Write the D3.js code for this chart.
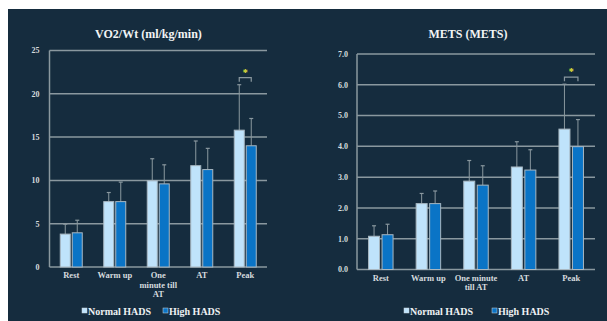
<!DOCTYPE html>
<html><head><meta charset="utf-8">
<script src="https://cdn.jsdelivr.net/npm/d3@7"></script>
<style>html,body{margin:0;padding:0;background:#fff;}svg{display:block;}</style>
</head><body>
<script>
const categories = ["Rest", "Warm up", "One minute till AT", "AT", "Peak"];
const seriesNames = ["Normal HADS", "High HADS"];
const leftLabelLines = [["Rest"], ["Warm up"], ["One", "minute till", "AT"], ["AT"], ["Peak"]];
const rightLabelLines = [["Rest"], ["Warm up"], ["One minute", "till AT"], ["AT"], ["Peak"]];

const vo2Normal = [3.8, 7.55, 9.95, 11.7, 15.8];
const vo2NormalErr = [4.95, 8.6, 12.5, 14.55, 21.05];
const vo2High = [3.95, 7.55, 9.6, 11.25, 14.0];
const vo2HighErr = [5.4, 9.8, 11.8, 13.7, 17.15];
const vo2Ticks = [0, 5, 10, 15, 20, 25];

const metsNormal = [1.08, 2.14, 2.87, 3.33, 4.56];
const metsNormalErr = [1.42, 2.47, 3.54, 4.15, 6.02];
const metsHigh = [1.13, 2.14, 2.74, 3.23, 3.99];
const metsHighErr = [1.47, 2.55, 3.37, 3.89, 4.87];
const metsTicks = [0, 1, 2, 3, 4, 5, 6, 7];

const W = 607, H = 321;
const bg = "#152c3e", grid = "#8a989f", lightC = "#bfe3fb", darkC = "#0a74c6";
const serif = "'Liberation Serif','Times New Roman',serif";

const svg = d3.select("body").append("svg").attr("width", W).attr("height", H);
svg.append("rect").attr("x", 0).attr("y", 0).attr("width", W).attr("height", H).attr("fill", "#fff");
svg.append("rect").attr("x", 8).attr("y", 9).attr("width", W - 8).attr("height", H - 9).attr("fill", bg);

function drawChart(cfg) {
  const g = svg.append("g");
  const x = d3.scaleBand().domain(categories).range([cfg.x0, cfg.x1]).paddingInner(0).paddingOuter(0);
  const y = d3.scaleLinear().domain([cfg.ticks[0], cfg.ticks[cfg.ticks.length - 1]]).range([cfg.yBottom, cfg.yTop]);
  const bw = x.bandwidth();
  const x1 = d3.scaleBand().domain(seriesNames)
    .range([bw / 2 - cfg.barW - cfg.gap / 2, bw / 2 + cfg.barW + cfg.gap / 2])
    .paddingInner(cfg.gap / (cfg.barW + cfg.gap));

  // gridlines
  g.append("g").selectAll("line").data(cfg.ticks).join("line")
    .attr("x1", cfg.x0).attr("x2", cfg.x1)
    .attr("y1", d => y(d)).attr("y2", d => y(d))
    .attr("stroke", grid).attr("stroke-width", 1.5);
  // y axis line
  g.append("line").attr("x1", cfg.x0).attr("x2", cfg.x0).attr("y1", y(cfg.ticks[0])).attr("y2", y(cfg.ticks[cfg.ticks.length - 1]))
    .attr("stroke", grid).attr("stroke-width", 1.5);
  // y labels
  g.append("g").selectAll("text").data(cfg.ticks).join("text")
    .attr("x", cfg.x0 - cfg.labelGap).attr("y", d => y(d)).attr("dy", "0.35em")
    .attr("text-anchor", "end").attr("fill", "#d5dbde")
    .attr("font-family", serif).attr("font-weight", "bold").attr("font-size", 8)
    .text(d => d3.format(cfg.fmt)(d));

  const sets = [
    { name: seriesNames[0], vals: cfg.normal, errs: cfg.normalErr, color: lightC },
    { name: seriesNames[1], vals: cfg.high, errs: cfg.highErr, color: darkC }
  ];
  sets.forEach(s => {
    const gs = g.append("g");
    // error bars
    gs.selectAll("line.err").data(categories).join("line").attr("class", "err")
      .attr("x1", (c) => x(c) + x1(s.name) + x1.bandwidth() / 2)
      .attr("x2", (c) => x(c) + x1(s.name) + x1.bandwidth() / 2)
      .attr("y1", (c, i) => y(s.vals[i])).attr("y2", (c, i) => y(s.errs[i]))
      .attr("stroke", grid).attr("stroke-width", 1);
    gs.selectAll("line.cap").data(categories).join("line").attr("class", "cap")
      .attr("x1", (c) => x(c) + x1(s.name) + x1.bandwidth() / 2 - 2)
      .attr("x2", (c) => x(c) + x1(s.name) + x1.bandwidth() / 2 + 2)
      .attr("y1", (c, i) => y(s.errs[i])).attr("y2", (c, i) => y(s.errs[i]))
      .attr("stroke", grid).attr("stroke-width", 1.2);
    gs.selectAll("rect").data(categories).join("rect")
      .attr("x", c => x(c) + x1(s.name)).attr("width", x1.bandwidth())
      .attr("y", (c, i) => y(s.vals[i])).attr("height", (c, i) => y(0) - y(s.vals[i]))
      .attr("fill", s.color).attr("stroke", "#a9b8c2").attr("stroke-width", 1);
  });

  // x labels
  const xl = g.append("g").selectAll("text").data(categories).join("text")
    .attr("x", c => x(c) + bw / 2).attr("y", cfg.yBottom + cfg.xLabelOff)
    .attr("text-anchor", "middle").attr("fill", "#d5dbde")
    .attr("font-family", serif).attr("font-weight", "bold").attr("font-size", 8.5);
  xl.each(function (c, i) {
    const t = d3.select(this);
    cfg.labelLines[i].forEach((ln, j) => {
      t.append("tspan").attr("x", x(c) + bw / 2).attr("dy", j === 0 ? 0 : 9.5).text(ln);
    });
  });

  // title
  g.append("text").attr("x", cfg.titleX).attr("y", 38).attr("text-anchor", "middle")
    .attr("fill", "#f2f4f5").attr("font-family", serif).attr("font-weight", "bold").attr("font-size", 12)
    .text(cfg.title);

  // significance bracket on last category
  const last = categories.length - 1;
  const cN = x(categories[last]) + x1(seriesNames[0]) + x1.bandwidth() / 2;
  const cH = x(categories[last]) + x1(seriesNames[1]) + x1.bandwidth() / 2;
  const top = y(Math.max(cfg.normalErr[last], cfg.highErr[last]));
  g.append("path")
    .attr("d", `M${cN},${top - 3}V${top - 7}H${cH}V${top - 3}`)
    .attr("fill", "none").attr("stroke", grid).attr("stroke-width", 1.2);
  g.append("text").attr("x", (cN + cH) / 2).attr("y", top - 9)
    .attr("text-anchor", "middle").attr("fill", "#e8e83a")
    .attr("font-family", serif).attr("font-weight", "bold").attr("font-size", 10).text("*");

  // legend
  const lg = g.append("g");
  cfg.legendX.forEach((lx, i) => {
    lg.append("rect").attr("x", lx).attr("y", 308).attr("width", 5).attr("height", 5)
      .attr("fill", i === 0 ? lightC : darkC).attr("stroke", "#cfd8de").attr("stroke-width", 0.5);
    lg.append("text").attr("x", lx + 6).attr("y", 311).attr("dy", "0.35em")
      .attr("fill", "#eef1f3").attr("font-family", serif).attr("font-weight", "bold").attr("font-size", 10)
      .text(seriesNames[i]);
  });
}

drawChart({
  x0: 49.5, x1: 267, yBottom: 267, yTop: 50.5, ticks: vo2Ticks, fmt: "d", labelGap: 10,
  normal: vo2Normal, normalErr: vo2NormalErr, high: vo2High, highErr: vo2HighErr,
  barW: 10, gap: 2, labelLines: leftLabelLines, xLabelOff: 11,
  title: "VO2/Wt (ml/kg/min)", titleX: 148.5, legendX: [82, 163]
});
drawChart({
  x0: 357, x1: 595, yBottom: 269.5, yTop: 54, ticks: metsTicks, fmt: ".1f", labelGap: 9,
  normal: metsNormal, normalErr: metsNormalErr, high: metsHigh, highErr: metsHighErr,
  barW: 11, gap: 2.5, labelLines: rightLabelLines, xLabelOff: 11,
  title: "METS (METS)", titleX: 468, legendX: [404, 492]
});
</script>
</body></html>
